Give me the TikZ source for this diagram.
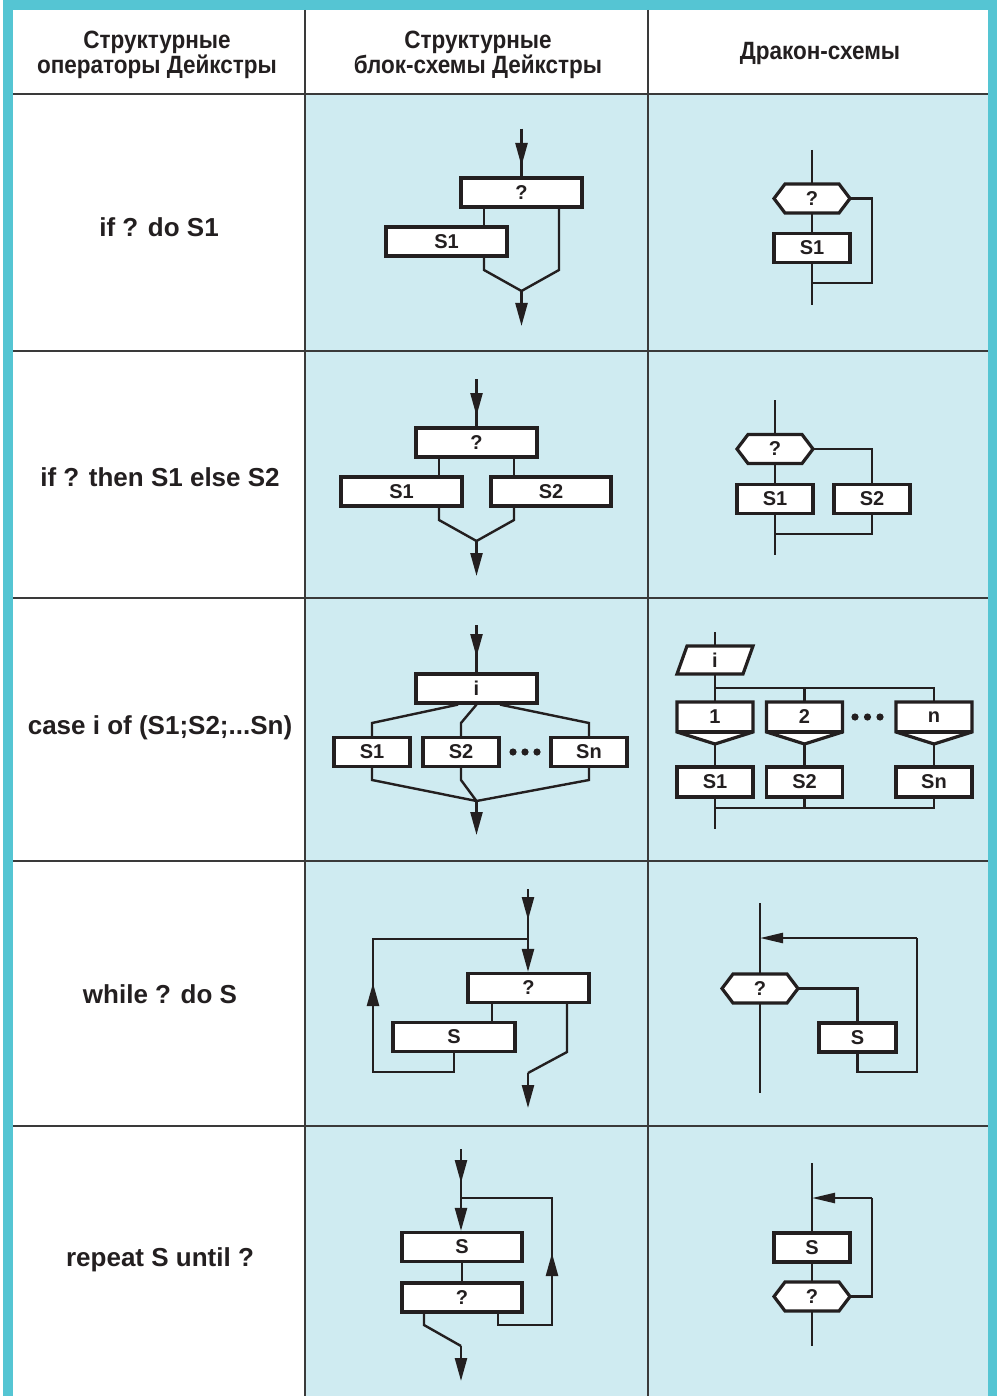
\documentclass[tikz,border=0pt]{standalone}
\usepackage{fontspec}
\setmainfont{Liberation Sans}
\newfontfamily\headfont[FakeStretch=0.9]{Liberation Sans}
\usetikzlibrary{arrows.meta}
\definecolor{frame}{HTML}{55C5D3}
\definecolor{cellblue}{HTML}{CFEBF1}
\definecolor{ink}{HTML}{231F20}
\definecolor{gridc}{HTML}{3A3A3A}
\newcommand\hexn[4]{%
  \draw[shp] (#2-38,#3) -- (#2-27,#3-14.5) -- (#2+27,#3-14.5) -- (#2+38,#3) -- (#2+27,#3+14.5) -- (#2-27,#3+14.5) -- cycle;
  \node[lbl, minimum width=76pt] (#1) at (#2,#3) {#4};}
\newcommand\casen[4]{%
  \draw[shp] (#2-38,#3-15) -- (#2+38,#3-15) -- (#2+38,#3+15) -- (#2,#3+27) -- (#2-38,#3+15) -- cycle;
  \draw[shp] (#2-38,#3+15) -- (#2+38,#3+15);
  \node[lbl, minimum width=76pt, minimum height=30pt] (#1) at (#2,#3) {#4};}
\begin{document}
\begin{tikzpicture}[x=1pt,y=-1pt,
  bx/.style={draw=ink, line width=3.2pt, fill=white, inner sep=0pt, minimum height=29pt,
    font=\fontsize{20}{20}\selectfont\bfseries, text=ink},
  lbl/.style={inner sep=0pt, minimum height=29pt, font=\fontsize{20}{20}\selectfont\bfseries, text=ink},
  shp/.style={draw=ink, line width=3.2pt, fill=white},
  conn/.style={draw=ink, line width=2.4pt},
  arr/.style={conn, -{Triangle[length=23pt,width=12pt]}},
  harr/.style={conn, -{Triangle[length=23pt,width=10pt]}},
  gridline/.style={draw=gridc, line width=1.6pt},
  headtxt/.style={align=center, text=ink, font=\headfont\fontsize{25}{25}\selectfont\bfseries, inner sep=0pt},
  rowlab/.style={text=ink, font=\fontsize{26}{28}\selectfont\bfseries, inner sep=0pt},
  dot/.style={fill=ink}
]
\useasboundingbox (0,0) rectangle (997,1396);
% background and table
\fill[white] (0,0) rectangle (997,1396);
\fill[frame] (3,0) rectangle (997,1396);
\fill[white] (13,10) rectangle (988,1396);
\fill[cellblue] (305,94) rectangle (988,1396);
\draw[gridline] (305,10) -- (305,1396);
\draw[gridline] (648,10) -- (648,1396);
\draw[gridline, line width=2.4pt] (13,94) -- (988,94);
\foreach \yy in {351,598,861,1126} \draw[gridline] (13,\yy) -- (988,\yy);

% headers
\node[headtxt] (h1) at (157,55) {Структурные\\операторы Дейкстры};
\node[headtxt] (h2) at (478,55) {Структурные\\блок-схемы Дейкстры};
\node[headtxt] (h3) at (820,53) {Дракон-схемы};

% row labels
\node[rowlab] (r1) at (159,227) {if ? do S1};
\node[rowlab] (r2) at (160,477) {if ? then S1 else S2};
\node[rowlab] (r3) at (160,728) {case i of (S1;S2;...Sn)};
\node[rowlab] (r4) at (160,994) {while ? do S};
\node[rowlab] (r5) at (160,1260) {repeat S until ?};

% ===== Row 1, column 2
\node[bx, minimum width=121pt] (a1q) at (521.5,192.5) {?};
\node[bx, minimum width=121pt] (a1s) at (446.5,241.5) {S1};
\coordinate (a1in) at (521.5,129);
\coordinate (a1tip) at (521.5,166);
\coordinate (a1r) at (559,270);
\coordinate (a1l) at (484,270);
\coordinate (a1m) at (521.5,291);
\coordinate (a1out) at (521.5,326);
\draw[conn] (a1in) -- (a1q.north);
\draw[arr] (a1in) -- (a1tip);
\draw[conn] ([xshift=-37.5pt]a1q.south) -- ([xshift=37.5pt]a1s.north);
\draw[conn] ([xshift=37.5pt]a1q.south) -- (a1r) -- (a1m);
\draw[conn] ([xshift=37.5pt]a1s.south) -- (a1l) -- (a1m);
\draw[arr] (a1m) -- (a1out);

% ===== Row 1, column 3
\hexn{b1q}{812}{198.5}{?}
\node[bx, minimum width=76pt] (b1s) at (812,248) {S1};
\coordinate (b1top) at (812,150);
\coordinate (b1k) at (872,283);
\coordinate (b1j) at (812,283);
\coordinate (b1bot) at (812,305);
\draw[conn] (b1top) -- (b1q.north);
\draw[conn] (b1q.south) -- (b1s.north);
\draw[conn] (b1s.south) -- (b1bot);
\draw[conn] (b1q.east) -| (b1k) -- (b1j);

% ===== Row 2, column 2
\node[bx, minimum width=121pt] (a2q) at (476.5,442.5) {?};
\node[bx, minimum width=121pt] (a2s1) at (401.5,491.5) {S1};
\node[bx, minimum width=120pt] (a2s2) at (551,491.5) {S2};
\coordinate (a2in) at (476.5,379);
\coordinate (a2tip) at (476.5,416);
\coordinate (a2l) at (439,520);
\coordinate (a2r) at (514,520);
\coordinate (a2m) at (476.5,541);
\coordinate (a2out) at (476.5,576);
\draw[conn] (a2in) -- (a2q.north);
\draw[arr] (a2in) -- (a2tip);
\draw[conn] ([xshift=-37.5pt]a2q.south) -- ([xshift=37.5pt]a2s1.north);
\draw[conn] ([xshift=37.5pt]a2q.south) -- ([xshift=-37pt]a2s2.north);
\draw[conn] ([xshift=37.5pt]a2s1.south) -- (a2l) -- (a2m);
\draw[conn] ([xshift=-37pt]a2s2.south) -- (a2r) -- (a2m);
\draw[arr] (a2m) -- (a2out);

% ===== Row 2, column 3
\hexn{b2q}{775}{449}{?}
\node[bx, minimum width=76pt] (b2s1) at (775,499) {S1};
\node[bx, minimum width=76pt] (b2s2) at (872,499) {S2};
\coordinate (b2top) at (775,400);
\coordinate (b2k) at (872,534);
\coordinate (b2j) at (775,534);
\coordinate (b2bot) at (775,555);
\draw[conn] (b2top) -- (b2q.north);
\draw[conn] (b2q.south) -- (b2s1.north);
\draw[conn] (b2s1.south) -- (b2bot);
\draw[conn] (b2q.east) -| (b2s2.north);
\draw[conn] (b2s2.south) -- (b2k) -- (b2j);

% ===== Row 3, column 2
\node[bx, minimum width=121pt] (a3i) at (476.5,688.5) {i};
\node[bx, minimum width=76pt] (a3s1) at (372,752) {S1};
\node[bx, minimum width=76pt] (a3s2) at (461,752) {S2};
\node[bx, minimum width=76pt] (a3sn) at (589,752) {Sn};
\coordinate (a3in) at (476.5,625);
\coordinate (a3tip) at (476.5,657);
\coordinate (a3b1) at (372,723);
\coordinate (a3b2) at (461,723);
\coordinate (a3bn) at (589,723);
\coordinate (a3c1) at (372,780);
\coordinate (a3c2) at (461,780);
\coordinate (a3cn) at (589,780);
\coordinate (a3m) at (476.5,801);
\coordinate (a3out) at (476.5,835);
\draw[conn] (a3in) -- (a3i.north);
\draw[arr] (a3in) -- (a3tip);
\draw[conn] ([xshift=-18.5pt]a3i.south) -- (a3b1) -- (a3s1.north);
\draw[conn] (a3i.south) -- (a3b2) -- (a3s2.north);
\draw[conn] ([xshift=23.5pt]a3i.south) -- (a3bn) -- (a3sn.north);
\draw[conn] (a3s1.south) -- (a3c1) -- (a3m);
\draw[conn] (a3s2.south) -- (a3c2) -- (a3m);
\draw[conn] (a3sn.south) -- (a3cn) -- (a3m);
\draw[arr] (a3m) -- (a3out);
\fill[dot] (513,752) circle (3.6);
\fill[dot] (525,752) circle (3.6);
\fill[dot] (537,752) circle (3.6);

% ===== Row 3, column 3
\draw[shp] (677,674) -- (687,646) -- (753,646) -- (743,674) -- cycle;
\node[lbl, minimum width=66pt, minimum height=28pt] (b3i) at (715,660) {i};
\casen{b3c1}{715}{717}{1}
\casen{b3c2}{804.5}{717}{2}
\casen{b3cn}{934}{717}{n}
\node[bx, minimum width=76pt, minimum height=30pt] (b3s1) at (715,782) {S1};
\node[bx, minimum width=76pt, minimum height=30pt] (b3s2) at (804.5,782) {S2};
\node[bx, minimum width=76pt, minimum height=30pt] (b3sn) at (934,782) {Sn};
\coordinate (b3top) at (715,632);
\coordinate (b3j) at (715,688);
\coordinate (b3jn) at (934,688);
\coordinate (b3k) at (715,808);
\coordinate (b3kn) at (934,808);
\coordinate (b3bot) at (715,829);
\coordinate (b3t1) at (715,744);
\coordinate (b3t2) at (804.5,744);
\coordinate (b3tn) at (934,744);
\draw[conn] (b3top) -- (b3i.north);
\draw[conn] (b3i.south) -- (b3c1.north);
\draw[conn] (b3j) -- (b3jn) -- (b3cn.north);
\draw[conn] (b3j -| b3c2.north) -- (b3c2.north);
\draw[conn] (b3t1) -- (b3s1.north);
\draw[conn] (b3t2) -- (b3s2.north);
\draw[conn] (b3tn) -- (b3sn.north);
\draw[conn] (b3s1.south) -- (b3bot);
\draw[conn] (b3sn.south) -- (b3kn) -- (b3k);
\draw[conn] (b3s2.south) -- (b3k -| b3s2.south);
\fill[dot] (855,717) circle (3.6);
\fill[dot] (867.5,717) circle (3.6);
\fill[dot] (880,717) circle (3.6);

% ===== Row 4, column 2
\node[bx, minimum width=121pt] (a4q) at (528.5,988) {?};
\node[bx, minimum width=122pt] (a4s) at (454,1037) {S};
\coordinate (a4in) at (528,889);
\coordinate (a4tip) at (528,920);
\coordinate (a4j) at (528,939);
\coordinate (a4lt) at (373,939);
\coordinate (a4lb) at (373,1072);
\coordinate (a4ltip) at (373,983);
\coordinate (a4sb) at (454,1072);
\coordinate (a4e) at (567,1052);
\coordinate (a4m) at (528,1073);
\coordinate (a4out) at (528,1108);
\draw[conn] (a4in) -- (a4j);
\draw[arr] (a4in) -- (a4tip);
\draw[arr] (a4j) -- (a4q.north -| a4j);
\draw[conn] ([xshift=-36.5pt]a4q.south) -- ([xshift=38pt]a4s.north);
\draw[conn] (a4s.south) -- (a4sb) -- (a4lb) -- (a4lt) -- (a4j);
\draw[arr] (a4lb) -- (a4ltip);
\draw[conn] ([xshift=38.5pt]a4q.south) -- (a4e) -- (a4m);
\draw[arr] (a4m) -- (a4out);

% ===== Row 4, column 3
\hexn{b4q}{760}{988.5}{?}
\node[bx, minimum width=77pt] (b4s) at (857.5,1037.5) {S};
\coordinate (b4top) at (760,903);
\coordinate (b4bot) at (760,1093);
\coordinate (b4a) at (760,938);
\coordinate (b4rt) at (917,938);
\coordinate (b4rb) at (917,1072);
\coordinate (b4sb) at (857.5,1072);
\draw[conn] (b4top) -- (b4q.north);
\draw[conn] (b4q.south) -- (b4bot);
\draw[conn] (b4q.east) -| (b4s.north);
\draw[conn] (b4s.south) -- (b4sb) -- (b4rb) -- (b4rt);
\draw[harr] (b4rt) -- (b4a);

% ===== Row 5, column 2
\node[bx, minimum width=120pt] (a5s) at (462,1247) {S};
\node[bx, minimum width=120pt] (a5q) at (462,1297.5) {?};
\coordinate (a5in) at (461,1149);
\coordinate (a5tip) at (461,1183);
\coordinate (a5j) at (461,1198);
\coordinate (a5rt) at (552,1198);
\coordinate (a5rb) at (552,1325);
\coordinate (a5rtip) at (552,1253);
\coordinate (a5qb) at (498,1325);
\coordinate (a5e) at (424,1325);
\coordinate (a5m) at (461,1346);
\coordinate (a5out) at (461,1381);
\draw[conn] (a5in) -- (a5j);
\draw[arr] (a5in) -- (a5tip);
\draw[arr] (a5j) -- (a5s.north -| a5j);
\draw[conn] (a5s.south) -- (a5q.north);
\draw[conn] ([xshift=36pt]a5q.south) -- (a5qb) -- (a5rb) -- (a5rt) -- (a5j);
\draw[arr] (a5rb) -- (a5rtip);
\draw[conn] ([xshift=-38pt]a5q.south) -- (a5e) -- (a5m);
\draw[arr] (a5m) -- (a5out);

% ===== Row 5, column 3
\node[bx, minimum width=76pt] (b5s) at (812,1247.5) {S};
\hexn{b5q}{812}{1296.5}{?}
\coordinate (b5top) at (812,1163);
\coordinate (b5bot) at (812,1346);
\coordinate (b5a) at (812,1198);
\coordinate (b5rt) at (872,1198);
\draw[conn] (b5top) -- (b5s.north);
\draw[conn] (b5s.south) -- (b5q.north);
\draw[conn] (b5q.south) -- (b5bot);
\draw[conn] (b5q.east) -| (b5rt);
\draw[harr] (b5rt) -- (b5a);
\end{tikzpicture}
\end{document}
